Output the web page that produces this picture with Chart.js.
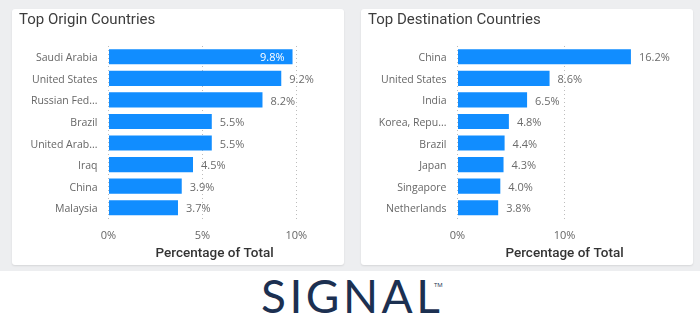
<!DOCTYPE html>
<html><head><meta charset="utf-8">
<script src="https://cdn.jsdelivr.net/npm/chart.js@4"></script>
<style>
html,body{margin:0;padding:0;width:700px;height:328px;overflow:hidden;background:#fff}
#bg{position:absolute;left:0;top:0;width:700px;height:271px;background:#edeef0}
.panel{position:absolute;top:9px;width:332px;height:256px;background:#fff;border-radius:3px;box-shadow:0 1px 2px rgba(0,0,0,0.10)}
.panel canvas{position:absolute;left:0;top:0}
.ptitle{position:absolute;left:7px;top:1px;font:15px Roboto,sans-serif;color:#3d3d3d;white-space:nowrap}
#logo{position:absolute;left:261px;top:273px;font:400 46px Lato,"Open Sans",sans-serif;letter-spacing:3.5px;color:#1c3051;line-height:46px;white-space:nowrap}
#tm{position:absolute;left:434px;top:281px;font:6px "Open Sans",sans-serif;color:#1c3051}
</style></head>
<body>
<div id="bg"></div>
<div class="panel" style="left:12px"><canvas id="c1" width="332" height="256"></canvas><div class="ptitle">Top Origin Countries</div></div>
<div class="panel" style="left:361px"><canvas id="c2" width="332" height="256"></canvas><div class="ptitle">Top Destination Countries</div></div>
<div id="logo">SIGNAL</div><div id="tm">TM</div>
<script>
const originCountries = ['Saudi Arabia','United States','Russian Fed...','Brazil','United Arab...','Iraq','China','Malaysia'];
const originShares = [9.8, 9.2, 8.2, 5.5, 5.5, 4.5, 3.9, 3.7];
const originTicks = [0, 5, 10];
const destCountries = ['China','United States','India','Korea, Repu...','Brazil','Japan','Singapore','Netherlands'];
const destShares = [16.2, 8.6, 6.5, 4.8, 4.4, 4.3, 4.0, 3.8];
const destTicks = [0, 10];
const axisTitle = 'Percentage of Total';

const labelFont = '11px "Open Sans", sans-serif';
const valueLabels = {
  id: 'valueLabels',
  afterDatasetsDraw(chart) {
    const ctx = chart.ctx;
    const meta = chart.getDatasetMeta(0);
    const vals = chart.data.datasets[0].data;
    ctx.save();
    ctx.font = labelFont;
    ctx.textBaseline = 'middle';
    meta.data.forEach((bar, i) => {
      const txt = vals[i].toFixed(1) + '%';
      const w = ctx.measureText(txt).width;
      if (bar.x + 8 + w > chart.chartArea.right) {
        ctx.fillStyle = '#ffffff'; ctx.textAlign = 'right';
        ctx.fillText(txt, bar.x - 8, bar.y + 1.5);
      } else {
        ctx.fillStyle = '#6b6b6b'; ctx.textAlign = 'left';
        ctx.fillText(txt, bar.x + 8, bar.y + 1.5);
      }
    });
    ctx.restore();
  }
};

function makeChart(id, labels, values, ticks, maxVal, padRight) {
  return new Chart(document.getElementById(id), {
    type: 'bar',
    data: { labels: labels, datasets: [{ data: values, backgroundColor: '#118DFF', barPercentage: 0.7, categoryPercentage: 1.0 }] },
    options: {
      indexAxis: 'y', responsive: false, animation: false,
      layout: { padding: { top: 37, left: 0, right: padRight, bottom: 0 } },
      plugins: { legend: { display: false }, tooltip: { enabled: false } },
      scales: {
        y: {
          grid: { display: false }, border: { display: false },
          ticks: { padding: 3, labelOffset: 1.5, color: '#666666', font: { family: 'Open Sans', size: 10.5 } },
          afterFit(s) { s.width = 96.5; }
        },
        x: {
          min: 0, max: maxVal,
          afterBuildTicks(s) { s.ticks = ticks.map(v => ({ value: v })); },
          grid: { color: '#bdbdbd', lineWidth: 1, drawTicks: false },
          border: { display: false, dash: [1, 3] },
          ticks: { padding: 11, color: '#666666', font: { family: 'Open Sans', size: 11 }, callback: v => v + '%' },
          title: { display: true, text: axisTitle, color: '#333333', font: { family: 'Roboto', size: 13.5, weight: '500' }, padding: { top: 0, bottom: 3 } },
          afterFit(s) { s.height = 46.5; }
        }
      }
    },
    plugins: [valueLabels]
  });
}
const c1 = makeChart('c1', originCountries, originShares, originTicks, 11.3, 23.3);
const c2 = makeChart('c2', destCountries, destShares, destTicks, 20, 21.4);
</script>
</body></html>
